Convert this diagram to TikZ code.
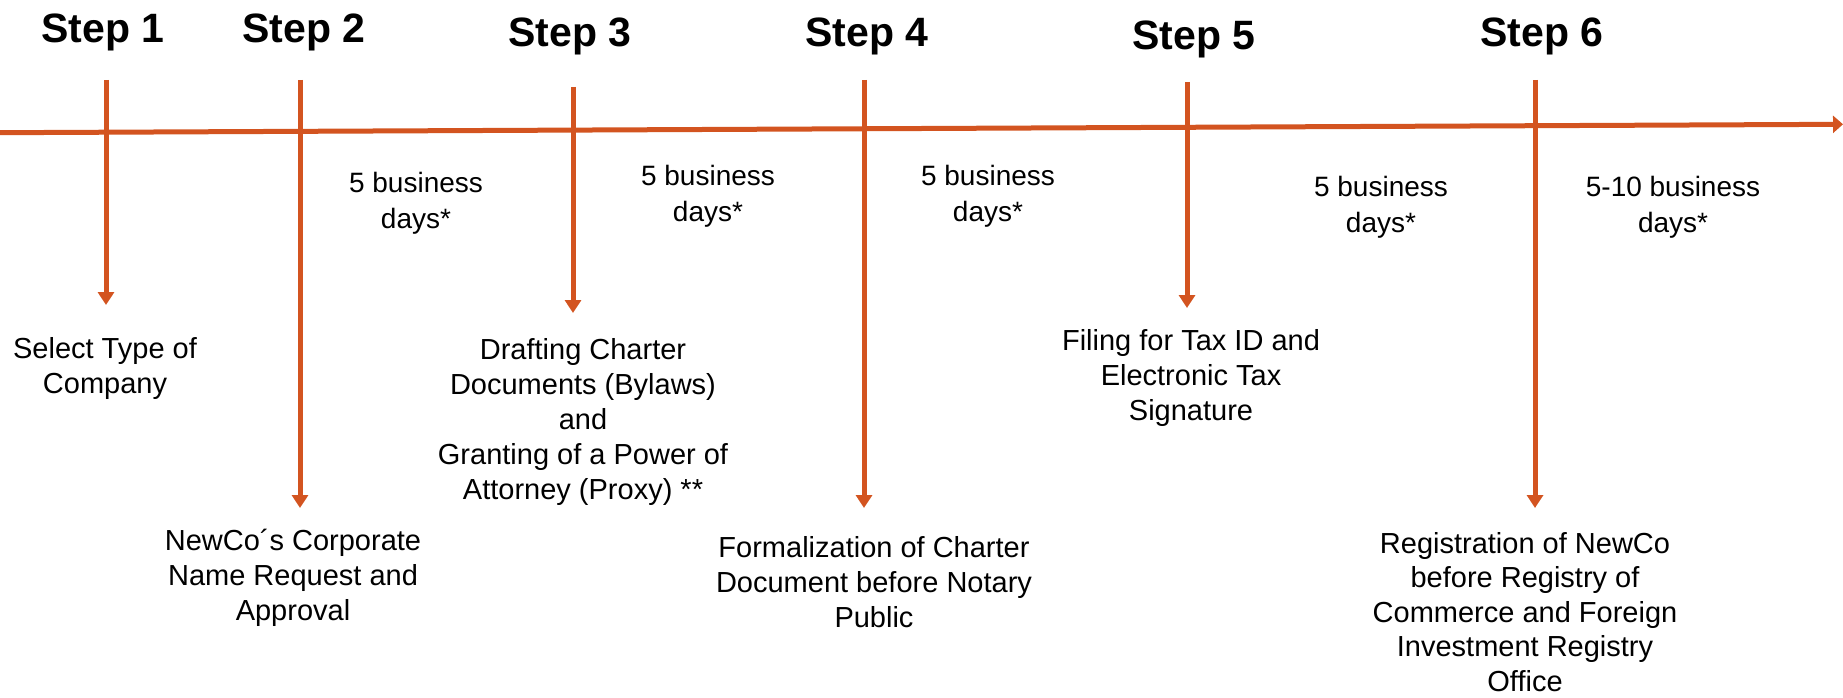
\documentclass[tikz,border=0pt]{standalone}
\usepackage{fontspec}
\setmainfont{Liberation Sans}
\usetikzlibrary{arrows.meta}
\definecolor{rust}{RGB}{211,84,32}
\begin{document}
\begin{tikzpicture}[x=1pt,y=-1pt,>={Triangle[width=16pt,length=13pt]},line join=round,
    axisline/.style={rust,line width=5pt},
    steplabel/.style={font=\fontsize{41}{46}\selectfont\bfseries,inner sep=0pt},
    dayslabel/.style={font=\fontsize{28}{36}\selectfont,align=center,inner sep=0pt},
    desclabel/.style={font=\fontsize{29}{35}\selectfont,align=center,inner sep=0pt}]
            \useasboundingbox (0,0) rectangle (1843,698);
            % time line
            \coordinate (tl0) at (0,132.7);
            \coordinate (tl1) at (1843,124.3);
            \draw[axisline,->,>={Triangle[width=17pt,length=10pt]}] (tl0) -- (tl1);
            % steps
            \node[steplabel] (s1) at (103,32) {Step 1};
            \node[steplabel] (s2) at (304,32) {Step 2};
            \node[steplabel] (s3) at (570,36) {Step 3};
            \node[steplabel] (s4) at (867,36) {Step 4};
            \node[steplabel] (s5) at (1194,39) {Step 5};
            \node[steplabel] (s6) at (1542,36) {Step 6};
            % ticks
            \foreach \n/\x/\t/\e in {1/106/80/305,2/300/80/508,3/573/87/313,4/864/80/508,5/1187/82/308,6/1535/80/508}{
                \coordinate (t\n) at (\x,\t);
                \coordinate (e\n) at (\x,\e);
                \draw[axisline,->] (t\n) -- (e\n);
            }
            % durations
            \node[dayslabel] (d1) at (416,203) {5 business\\days*};
            \node[dayslabel] (d2) at (708,196) {5 business\\days*};
            \node[dayslabel] (d3) at (988,196) {5 business\\days*};
            \node[dayslabel] (d4) at (1381,207) {5 business\\days*};
            \node[dayslabel] (d5) at (1673,207) {5-10 business\\days*};
            % what is done
            \node[desclabel] (c1) at (105,368) {Select Type of\\Company};
            \node[desclabel] (c2) at (293,578) {NewCo´s Corporate\\Name Request and\\Approval};
            \node[desclabel] (c3) at (583,422) {Drafting Charter\\Documents (Bylaws)\\and\\Granting of a Power of\\Attorney (Proxy) **};
            \node[desclabel] (c4) at (874,582) {Formalization of Charter\\Document before Notary\\Public};
            \node[desclabel] (c5) at (1191,378) {Filing for Tax ID and\\Electronic Tax\\Signature};
            \node[desclabel,font=\fontsize{29}{34.5}\selectfont] (c6) at (1525,612) {Registration of NewCo\\before Registry of\\Commerce and Foreign\\Investment Registry\\Office};
        \end{tikzpicture}
\end{document}
